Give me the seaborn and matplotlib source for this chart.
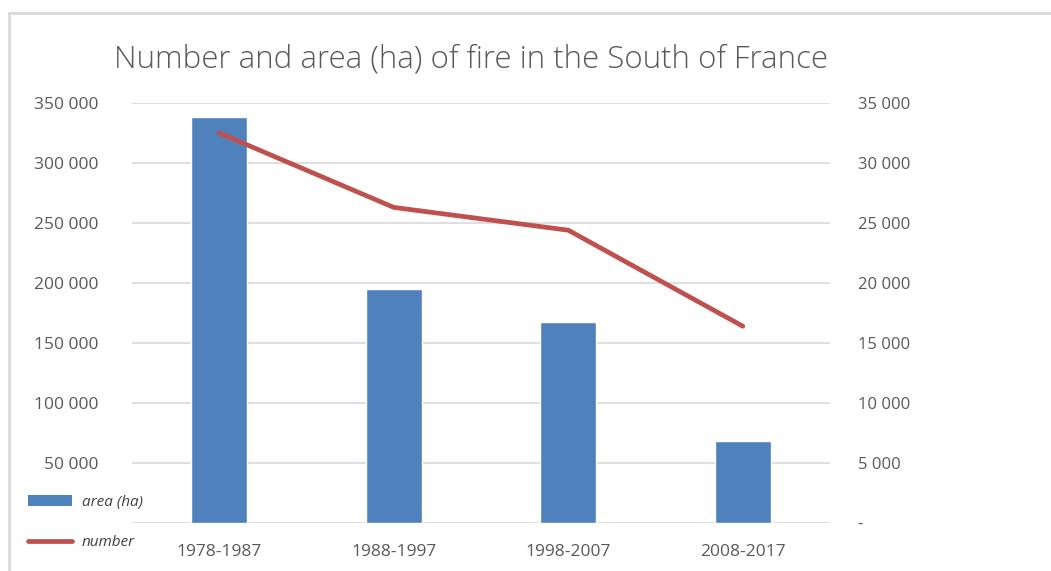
import numpy as np
import pandas as pd
import matplotlib
matplotlib.use("Agg")
import matplotlib.pyplot as plt
from matplotlib.lines import Line2D
from matplotlib.patches import Patch
from matplotlib.ticker import FuncFormatter
import seaborn as sns

# === data ===
periods = ["1978-1987", "1988-1997", "1998-2007", "2008-2017"]
area_ha = [338000, 195000, 167500, 68500]
fire_number = [32500, 26300, 24400, 16400]

left_ticks = [0, 50000, 100000, 150000, 200000, 250000, 300000, 350000]
right_ticks = [0, 5000, 10000, 15000, 20000, 25000, 30000, 35000]

bar_color = "#4f81bd"
line_color = "#c0504d"
text_color = "#595959"
grid_color = "#d9d9d9"

sns.set_theme(style="white")
plt.rcParams["font.family"] = ["Open Sans", "DejaVu Sans"]

df = pd.DataFrame({"period": periods, "area": area_ha, "number": fire_number})

fig = plt.figure(figsize=(10.51, 5.71), dpi=100)
ax = fig.add_axes([0.1256, 0.0841, 0.6642, 0.7355])

sns.barplot(data=df, x="period", y="area", color=bar_color, width=0.32,
            saturation=1, ax=ax)
ax.set_ylim(0, 350000)
ax.set_yticks(left_ticks)
ax.grid(axis="y", color=grid_color, linewidth=1.2)
ax.set_axisbelow(True)

ax2 = ax.twinx()
sns.lineplot(x=np.arange(len(periods)), y=fire_number, color=line_color,
             linewidth=3.4, ax=ax2)
ax2.set_ylim(0, 35000)
ax2.set_yticks(right_ticks)
ax.set_xlim(-0.5, len(periods) - 0.5)

# the left axis shows no label at zero, the right one shows a dash
def left_fmt(v, pos):
    return "" if v == 0 else f"{int(v):,}".replace(",", " ")

def right_fmt(v, pos):
    return "-" if v == 0 else f"{int(v):,}".replace(",", " ")

ax.yaxis.set_major_formatter(FuncFormatter(left_fmt))
ax2.yaxis.set_major_formatter(FuncFormatter(right_fmt))

for a in (ax, ax2):
    for s in a.spines.values():
        s.set_visible(False)
    a.set_xlabel("")
    a.set_ylabel("")

ax.tick_params(axis="y", length=0, pad=24, labelsize=12.5, labelcolor=text_color)
ax2.tick_params(axis="y", length=0, pad=20, labelsize=12, labelcolor=text_color)
ax.tick_params(axis="x", length=0, pad=15, labelsize=12.5, labelcolor=text_color)

fig.text(0.4486, 0.895, "Number and area (ha) of fire in the South of France",
         ha="center", va="center", fontsize=22.5, color=text_color,
         fontweight="light")

# legend at the bottom left
handles = [Patch(facecolor=bar_color, edgecolor="none"),
           Line2D([0], [0], color=line_color, linewidth=3.4)]
fig.legend(handles, ["area (ha)", "number"], loc="center left",
           bbox_to_anchor=(0.021, 0.085), borderaxespad=0, frameon=False,
           handlelength=2.9, handleheight=0.65, labelspacing=1.65,
           handletextpad=0.6, prop={"size": 11, "style": "italic"},
           labelcolor="#404040")

# frame lines on top and left
fig.add_artist(Line2D([0.009, 1.0], [0.978, 0.978], color=grid_color,
                      linewidth=2, transform=fig.transFigure))
fig.add_artist(Line2D([0.009, 0.009], [0.0, 0.978], color=grid_color,
                      linewidth=2, transform=fig.transFigure))

fig.savefig("out.png", dpi=100, facecolor="white")
